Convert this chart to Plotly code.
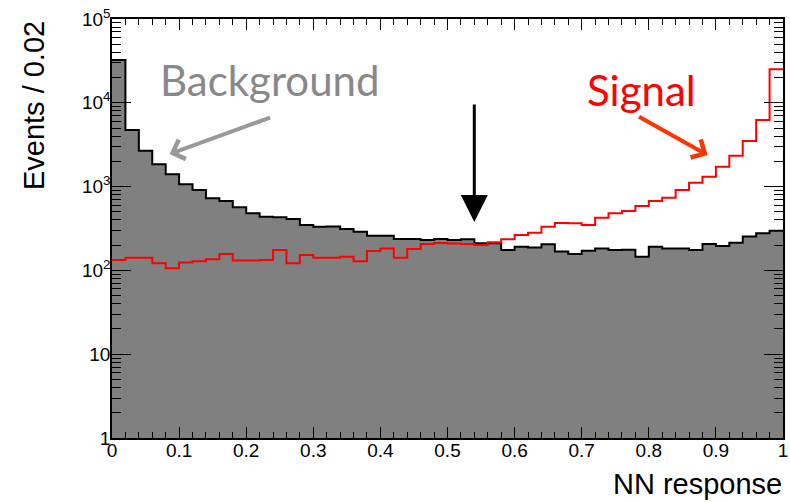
import plotly.graph_objects as go

# ---- data (bins of width 0.02 on NN response) ----
bin_edges = [round(i * 0.02, 2) for i in range(51)]
background = [32400, 4730, 2680, 1850, 1400, 1065, 910, 725, 673, 566,
              480, 437, 430, 410, 348, 332, 335, 312, 290, 260,
              260, 237, 237, 231, 237, 231, 235, 211, 211, 175,
              192, 187, 205, 168, 157, 172, 183, 175, 176, 146,
              192, 183, 183, 175, 207, 196, 214, 253, 277, 298]
signal = [133, 142, 142, 122, 106, 124, 129, 136, 157, 131,
          131, 133, 175, 122, 153, 142, 142, 146, 129, 170,
          183, 142, 180, 207, 212, 210, 207, 201, 216, 235,
          264, 282, 332, 368, 365, 348, 426, 480, 512, 587,
          673, 738, 910, 1113, 1313, 1729, 2340, 3500, 6230, 25100]
x_ticks = [0, 0.1, 0.2, 0.3, 0.4, 0.5, 0.6, 0.7, 0.8, 0.9, 1]
x_ticktext = ["0", "0.1", "0.2", "0.3", "0.4", "0.5", "0.6", "0.7", "0.8", "0.9", "1"]
y_tickvals = [1, 10, 100, 1000, 10000, 100000]
y_ticktext = ["1", "10", "10<sup>2</sup>", "10<sup>3</sup>", "10<sup>4</sup>", "10<sup>5</sup>"]
y_minor = [m * 10 ** d for d in range(5) for m in range(2, 10)]

centers = [(bin_edges[i] + bin_edges[i + 1]) / 2 for i in range(len(background))]
step_x = bin_edges
bkg_step = background + [background[-1]]
sig_step = signal + [signal[-1]]

fig = go.Figure()
fig.add_trace(go.Bar(x=centers, y=background, width=0.02,
                     marker=dict(color="#808080", line=dict(width=0)),
                     showlegend=False, hoverinfo="skip"))
fig.add_trace(go.Scatter(x=step_x, y=bkg_step, mode="lines", line_shape="hv",
                         line=dict(color="black", width=2), showlegend=False))
fig.add_trace(go.Scatter(x=step_x, y=sig_step, mode="lines", line_shape="hv",
                         line=dict(color="#ff0000", width=2), showlegend=False))

tickfont = dict(family="Liberation Sans, Arial, sans-serif", size=19, color="black")
label_font = "Lato, Gill Sans, sans-serif"

L, R, T, B = 112, 2, 19, 64
PW, PH = 790 - L - R, 502 - T - B


def px(x):
    return (x - L) / PW


def py(y):
    return (502 - B - y) / PH


fig.update_layout(
    width=790, height=502,
    margin=dict(l=L, r=R, t=T, b=B),
    plot_bgcolor="white", paper_bgcolor="white",
    bargap=0,
    xaxis=dict(range=[0, 1], tickmode="array", tickvals=x_ticks, ticktext=x_ticktext,
               ticks="inside", ticklen=11, tickwidth=1,
               tickcolor="black", showline=True, linecolor="black", linewidth=1.5,
               mirror="ticks", showgrid=False, zeroline=False, tickfont=tickfont,
               ticklabelstandoff=-6, ticklabeloverflow="allow",
               minor=dict(dtick=0.02, tick0=0, ticks="inside", ticklen=6, tickcolor="black",
                          showgrid=False)),
    yaxis=dict(type="log", range=[0, 5], tickvals=y_tickvals, ticktext=y_ticktext,
               ticks="inside", ticklen=19, tickwidth=1, tickcolor="black",
               showline=True, linecolor="black", linewidth=1.5, mirror="ticks",
               showgrid=False, zeroline=False, tickfont=tickfont, ticklabelstandoff=-4,
               ticklabeloverflow="allow",
               minor=dict(tickvals=y_minor, ticks="inside", ticklen=9, tickcolor="black",
                          showgrid=False)),
    annotations=[
        dict(text="Events / 0.02", textangle=-90, xref="paper", yref="paper",
             x=px(33), y=1.0, xanchor="center", yanchor="top", showarrow=False,
             font=dict(family="Liberation Sans, Arial, sans-serif", size=29, color="black")),
        dict(text="NN response", xref="paper", yref="paper", x=px(789), y=py(484),
             xanchor="right", yanchor="middle", showarrow=False,
             font=dict(family="Liberation Sans, Arial, sans-serif", size=29, color="black")),
        dict(text="Background", xref="paper", yref="paper", x=px(271), y=py(80),
             xanchor="center", yanchor="middle", showarrow=False,
             font=dict(family=label_font, size=42, color="#888888")),
        dict(text="Signal", xref="paper", yref="paper", x=px(645), y=py(90),
             xanchor="center", yanchor="middle", showarrow=False,
             font=dict(family=label_font, size=42, color="#ff0000")),
        dict(text="", xref="paper", yref="paper", x=px(170), y=py(154),
             ax=272 - 170, ay=117 - 154, showarrow=True, arrowhead=4, arrowsize=1.0,
             arrowwidth=4, arrowcolor="#999999"),
        dict(text="", xref="paper", yref="paper", x=px(712), y=py(155),
             ax=642 - 712, ay=116 - 155, showarrow=True, arrowhead=4, arrowsize=1.0,
             arrowwidth=4, arrowcolor="#ff3300"),
        dict(text="", xref="paper", yref="paper", x=px(477), y=py(222),
             ax=0, ay=103 - 222, showarrow=True, arrowhead=2, arrowsize=1.8,
             arrowwidth=3, arrowcolor="black"),
    ],
)

fig.write_html("out.html")
